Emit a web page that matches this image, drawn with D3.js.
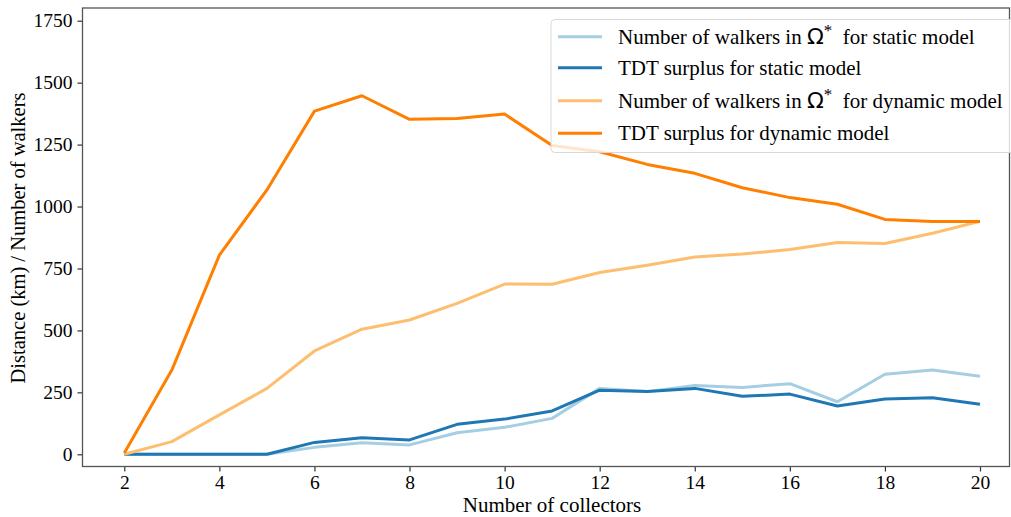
<!DOCTYPE html>
<html>
<head>
<meta charset="utf-8">
<script src="https://cdn.jsdelivr.net/npm/d3@7"></script>
<style>
  body { margin: 0; background: #fff; }
  svg { font-family: "Liberation Serif", "DejaVu Serif", serif; }
</style>
</head>
<body>
<svg></svg>
<script>
// data
const collectors = [2, 3, 4, 5, 6, 7, 8, 9, 10, 11, 12, 13, 14, 15, 16, 17, 18, 19, 20];
const walkersStatic = [0, 0, 0, 0, 28, 47, 38, 87, 109, 145, 266, 253, 278, 270, 285, 212, 323, 340, 315];
const surplusStatic = [0, 0, 0, 0, 48, 67, 58, 121, 142, 175, 259, 253, 266, 234, 243, 195, 223, 228, 202];
const walkersDynamic = [0, 51, 159, 266, 417, 505, 542, 609, 687, 686, 734, 763, 796, 808, 827, 855, 851, 892, 940];
const surplusDynamic = [5, 340, 804, 1067, 1385, 1447, 1352, 1355, 1373, 1246, 1221, 1170, 1134, 1076, 1036, 1009, 948, 940, 940];
const xTicks = [2, 4, 6, 8, 10, 12, 14, 16, 18, 20];
const yTicks = [0, 250, 500, 750, 1000, 1250, 1500, 1750];

const series = [
  { name: 'walkers', model: 'static', values: walkersStatic, color: '#a6cee3' },
  { name: 'surplus', model: 'static', values: surplusStatic, color: '#1f78b4' },
  { name: 'walkers', model: 'dynamic', values: walkersDynamic, color: '#fdbf6f' },
  { name: 'surplus', model: 'dynamic', values: surplusDynamic, color: '#ff7f00' }
];

const width = 1011;
const height = 517;
const plotLeft = 82.5;
const plotRight = 1009.5;
const plotTop = 8;
const plotBottom = 466.5;

const svg = d3.select('svg')
  .attr('width', width)
  .attr('height', height);

// scales
const xScale = d3.scaleLinear()
  .domain([2, 20])
  .range([124.3, 980]);

const yScale = d3.scaleLinear()
  .domain([0, 1750])
  .range([454.3, 20.7]);

// lines
const line = d3.line()
  .x(function (d, i) { return xScale(collectors[i]); })
  .y(function (d) { return yScale(d); });

svg.append('defs').append('clipPath').attr('id', 'plot')
  .append('rect')
  .attr('x', plotLeft).attr('y', plotTop)
  .attr('width', plotRight - plotLeft).attr('height', plotBottom - plotTop);

svg.append('g')
  .attr('clip-path', 'url(#plot)')
  .selectAll('path')
  .data(series)
  .enter()
  .append('path')
  .attr('d', function (s) { return line(s.values); })
  .attr('fill', 'none')
  .attr('stroke', function (s) { return s.color; })
  .attr('stroke-width', 3)
  .attr('stroke-linejoin', 'round');

// axes
const xAxis = svg.append('g')
  .attr('transform', 'translate(0, ' + plotBottom + ')')
  .call(d3.axisBottom(xScale).tickValues(xTicks).tickFormat(d3.format('d')).tickSize(5).tickPadding(4));

const yAxis = svg.append('g')
  .attr('transform', 'translate(' + plotLeft + ', 0)')
  .call(d3.axisLeft(yScale).tickValues(yTicks).tickFormat(d3.format('d')).tickSize(5).tickPadding(5));

[xAxis, yAxis].forEach(function (ax) {
  ax.select('.domain').remove();
  ax.selectAll('line').attr('stroke', '#333').attr('stroke-width', 1.2);
  ax.selectAll('text')
    .attr('fill', '#000')
    .style('font-family', '"Liberation Serif", serif')
    .style('font-size', '19.5px');
});

// frame
svg.append('rect')
  .attr('x', plotLeft).attr('y', plotTop)
  .attr('width', plotRight - plotLeft).attr('height', plotBottom - plotTop)
  .attr('fill', 'none')
  .attr('stroke', '#555')
  .attr('stroke-width', 1.3);

// axis labels
svg.append('text')
  .attr('x', (plotLeft + plotRight) / 2 + 6)
  .attr('y', 512)
  .attr('text-anchor', 'middle')
  .style('font-size', '21px')
  .text('Number of collectors');

svg.append('text')
  .attr('transform', 'translate(25, 238) rotate(-90)')
  .attr('text-anchor', 'middle')
  .style('font-size', '20.5px')
  .text('Distance (km) / Number of walkers');

// legend
const legend = svg.append('g');

legend.append('rect')
  .attr('x', 551).attr('y', 19.5)
  .attr('width', 470).attr('height', 133)
  .attr('rx', 4)
  .attr('fill', '#fff')
  .attr('fill-opacity', 0.8)
  .attr('stroke', '#d8d8d8')
  .attr('stroke-width', 1);

const rowY = [36.7, 67.7, 100.7, 133.3];

const rows = legend.selectAll('g.row')
  .data(series)
  .enter()
  .append('g')
  .attr('class', 'row')
  .attr('transform', function (s, i) { return 'translate(0, ' + rowY[i] + ')'; });

rows.append('line')
  .attr('x1', 558).attr('x2', 602)
  .attr('stroke', function (s) { return s.color; })
  .attr('stroke-width', 3);

rows.each(function (s) {
  const t = d3.select(this).append('text')
    .attr('x', 618)
    .attr('y', 7)
    .style('font-size', '21px');
  if (s.name === 'walkers') {
    t.append('tspan').text('Number of walkers in ');
    t.append('tspan').text('Ω').style('font-family', '"DejaVu Sans", sans-serif').style('font-size', '22px');
    t.append('tspan').text('*').attr('dy', -8).style('font-size', '17px');
    t.append('tspan').text('\u00a0 for ' + s.model + ' model').attr('dy', 8);
  } else {
    t.text('TDT surplus for ' + s.model + ' model');
  }
});
</script>
</body>
</html>
